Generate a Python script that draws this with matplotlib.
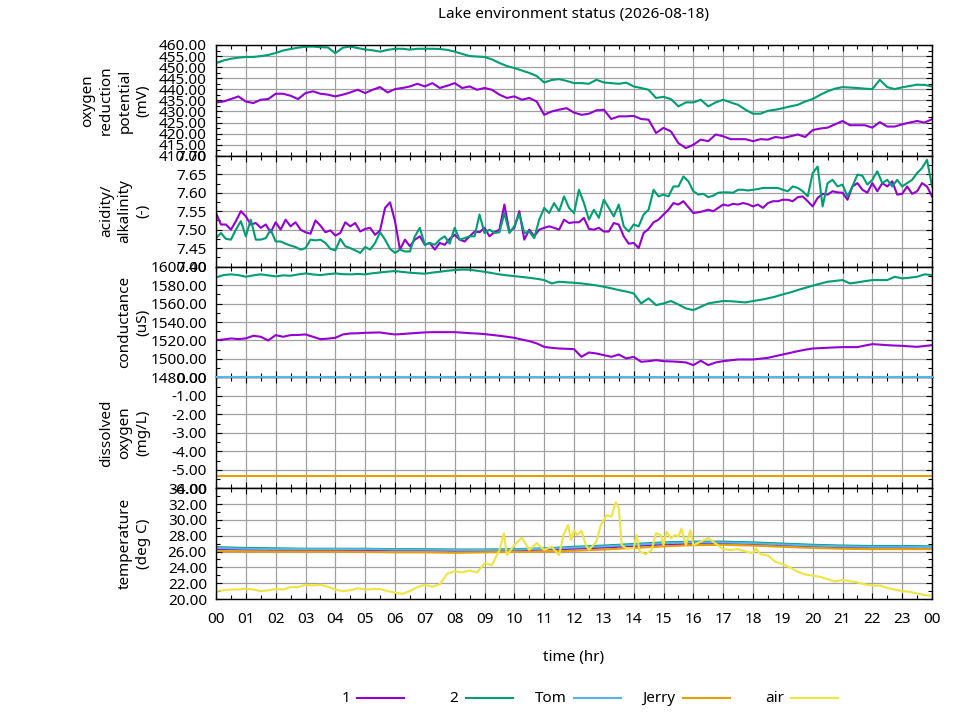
import numpy as np
import matplotlib
matplotlib.use("Agg")
import matplotlib.pyplot as plt
from matplotlib.lines import Line2D
from matplotlib.ticker import MultipleLocator, FormatStrFormatter

plt.rcParams['font.family'] = ['Noto Sans', 'DejaVu Sans']
plt.rcParams['font.size'] = 11

PURPLE = "#9400d3"
GREEN = "#009e73"
BLUE = "#56b4e9"
ORANGE = "#e69f00"
YELLOW = "#f0e442"

names = ["1", "2", "Tom", "Jerry", "air"]
colors = [PURPLE, GREEN, BLUE, ORANGE, YELLOW]

# sample times (hours)
t15 = np.arange(97) * 0.25
t10 = np.arange(145) / 6.0
t60 = np.arange(25) * 1.0

# oxygen reduction potential (mV), every 15 min
orp_1 = [434.1, 434.5, 435.6, 436.8, 434.5, 433.8, 435.3, 435.6, 438.0, 438.0, 437.1, 435.6,
         438.3, 439.1, 438.0, 437.6, 436.8, 437.6, 438.6, 439.8, 438.3, 439.8, 441.0, 438.6,
         440.1, 440.6, 441.3, 442.5, 441.3, 442.8, 440.6, 441.6, 442.8, 440.6, 441.3, 439.8,
         440.6, 439.8, 437.6, 436.1, 436.8, 435.3, 436.1, 434.5, 428.5, 430.0, 430.8, 431.5,
         429.5, 428.5, 429.0, 430.5, 430.8, 426.6, 427.8, 427.8, 428.0, 426.6, 426.3, 420.3,
         422.6, 421.0, 415.7, 413.5, 415.0, 417.3, 416.6, 419.6, 418.8, 417.5, 417.5, 417.5,
         416.6, 417.5, 417.3, 418.5, 418.0, 418.8, 419.6, 418.5, 421.6, 422.3, 422.7, 424.2,
         425.7, 423.8, 423.8, 423.8, 422.7, 425.2, 423.2, 423.2, 424.2, 425.0, 425.7, 425.0,
         426.5]
orp_2 = [451.9, 453.0, 453.8, 454.3, 454.6, 454.6, 455.0, 455.5, 456.4, 457.5, 458.2, 458.8,
         459.2, 459.3, 459.0, 458.9, 456.3, 458.8, 459.3, 458.6, 458.0, 457.6, 457.0, 457.8,
         458.3, 458.3, 457.9, 458.3, 458.3, 458.3, 458.2, 457.8, 457.0, 456.0, 455.0, 454.8,
         454.6, 453.5, 451.9, 450.5, 449.6, 448.5, 447.4, 446.0, 443.1, 444.2, 444.6, 443.8,
         442.8, 442.8, 442.5, 444.3, 443.1, 442.8, 442.5, 443.0, 441.3, 440.6, 439.8, 436.1,
         436.6, 435.6, 432.3, 434.1, 434.1, 435.3, 432.3, 434.1, 435.3, 434.1, 433.0, 430.8,
         429.0, 429.0, 430.3, 430.8, 431.5, 432.3, 433.0, 434.5, 435.6, 437.5, 439.1, 440.3,
         441.0, 440.8, 440.6, 440.3, 440.1, 444.3, 441.0, 440.1, 440.9, 441.5, 442.1, 442.0,
         441.3]

# acidity/alkalinity, every 10 min
ph_1 = [7.545, 7.514, 7.514, 7.500, 7.523, 7.550, 7.536, 7.514, 7.518, 7.505, 7.514, 7.493,
        7.520, 7.500, 7.527, 7.509, 7.520, 7.500, 7.493, 7.489, 7.525, 7.511, 7.493, 7.498,
        7.484, 7.491, 7.520, 7.509, 7.518, 7.495, 7.502, 7.505, 7.486, 7.498, 7.559, 7.574,
        7.523, 7.446, 7.473, 7.455, 7.473, 7.482, 7.459, 7.464, 7.446, 7.464, 7.459, 7.475,
        7.486, 7.473, 7.468, 7.482, 7.495, 7.493, 7.505, 7.482, 7.493, 7.500, 7.568, 7.495,
        7.505, 7.550, 7.473, 7.500, 7.482, 7.500, 7.505, 7.509, 7.505, 7.500, 7.527, 7.518,
        7.520, 7.520, 7.532, 7.502, 7.500, 7.505, 7.495, 7.495, 7.518, 7.514, 7.482, 7.462,
        7.464, 7.450, 7.491, 7.502, 7.520, 7.527, 7.541, 7.554, 7.572, 7.568, 7.577, 7.561,
        7.545, 7.547, 7.550, 7.554, 7.550, 7.559, 7.568, 7.565, 7.570, 7.568, 7.572, 7.569,
        7.563, 7.568, 7.559, 7.572, 7.577, 7.577, 7.581, 7.581, 7.577, 7.588, 7.590, 7.577,
        7.563, 7.586, 7.597, 7.595, 7.604, 7.601, 7.600, 7.581, 7.617, 7.626, 7.608, 7.600,
        7.626, 7.604, 7.626, 7.617, 7.631, 7.595, 7.597, 7.617, 7.597, 7.604, 7.626, 7.617,
        7.590]
ph_2 = [7.477, 7.491, 7.475, 7.473, 7.500, 7.523, 7.482, 7.527, 7.473, 7.473, 7.477, 7.500,
        7.468, 7.468, 7.462, 7.457, 7.453, 7.446, 7.450, 7.473, 7.471, 7.473, 7.464, 7.448,
        7.444, 7.475, 7.455, 7.450, 7.444, 7.437, 7.453, 7.446, 7.464, 7.493, 7.473, 7.448,
        7.437, 7.446, 7.441, 7.441, 7.482, 7.505, 7.459, 7.464, 7.459, 7.473, 7.482, 7.462,
        7.505, 7.473, 7.477, 7.482, 7.482, 7.541, 7.491, 7.500, 7.491, 7.493, 7.545, 7.491,
        7.509, 7.543, 7.491, 7.495, 7.477, 7.527, 7.559, 7.545, 7.572, 7.550, 7.590, 7.559,
        7.545, 7.608, 7.572, 7.527, 7.554, 7.532, 7.581, 7.559, 7.536, 7.568, 7.509, 7.495,
        7.514, 7.509, 7.541, 7.554, 7.608, 7.590, 7.595, 7.590, 7.617, 7.617, 7.644, 7.631,
        7.604, 7.595, 7.597, 7.588, 7.592, 7.600, 7.601, 7.601, 7.600, 7.608, 7.608, 7.606,
        7.608, 7.610, 7.613, 7.613, 7.613, 7.613, 7.608, 7.604, 7.617, 7.613, 7.604, 7.590,
        7.653, 7.671, 7.563, 7.626, 7.635, 7.617, 7.622, 7.590, 7.617, 7.649, 7.646, 7.622,
        7.635, 7.658, 7.626, 7.635, 7.617, 7.635, 7.617, 7.626, 7.635, 7.653, 7.667, 7.689,
        7.617]

# conductance (uS), every 15 min
cond_1 = [1520.4, 1521.0, 1522.2, 1521.5, 1522.2, 1525.1, 1524.0, 1520.0, 1525.8, 1524.0, 1525.8, 1526.0,
          1526.5, 1524.0, 1521.4, 1522.0, 1522.9, 1526.5, 1527.6, 1527.8, 1528.3, 1528.5, 1528.7, 1527.5,
          1526.5, 1527.0, 1527.6, 1528.2, 1528.7, 1529.0, 1529.0, 1529.0, 1529.0, 1528.5, 1527.9, 1527.5,
          1526.9, 1526.0, 1525.1, 1524.0, 1522.9, 1521.0, 1519.3, 1516.8, 1513.1, 1512.0, 1511.3, 1511.0,
          1510.6, 1502.3, 1507.0, 1505.9, 1504.1, 1502.3, 1504.8, 1500.5, 1502.3, 1496.9, 1497.6, 1498.7,
          1497.6, 1497.3, 1496.9, 1496.2, 1493.3, 1498.0, 1493.3, 1496.2, 1497.6, 1498.5, 1499.4, 1499.4,
          1499.4, 1500.3, 1501.2, 1503.0, 1504.8, 1506.6, 1508.4, 1510.0, 1511.3, 1511.7, 1512.1, 1512.5,
          1512.8, 1512.8, 1512.8, 1514.5, 1516.0, 1515.5, 1514.9, 1514.5, 1514.2, 1513.6, 1513.1, 1514.0,
          1514.9]
cond_2 = [1588.3, 1590.8, 1591.6, 1590.8, 1589.0, 1590.5, 1591.6, 1590.5, 1589.4, 1590.5, 1590.1, 1591.5,
          1592.6, 1591.5, 1590.8, 1591.8, 1592.6, 1591.8, 1591.6, 1592.0, 1591.6, 1592.8, 1593.7, 1594.5,
          1595.2, 1594.2, 1593.4, 1592.8, 1592.3, 1593.5, 1594.4, 1595.5, 1596.2, 1596.8, 1596.6, 1595.5,
          1594.4, 1593.0, 1591.6, 1590.5, 1589.7, 1588.8, 1587.9, 1586.8, 1585.4, 1581.8, 1583.6, 1583.0,
          1582.5, 1581.8, 1580.7, 1579.6, 1578.2, 1576.5, 1574.6, 1573.0, 1571.0, 1560.1, 1565.6, 1558.3,
          1560.1, 1562.7, 1559.0, 1554.7, 1552.9, 1556.5, 1560.1, 1561.5, 1562.7, 1562.5, 1561.9, 1561.2,
          1562.7, 1564.0, 1565.6, 1567.5, 1569.9, 1572.0, 1574.6, 1577.0, 1579.3, 1581.5, 1583.6, 1584.5,
          1585.4, 1581.8, 1582.9, 1584.2, 1585.4, 1585.4, 1585.4, 1589.0, 1587.2, 1588.0, 1589.0, 1591.6,
          1590.8]

# dissolved oxygen (mg/L), hourly
do_tom = [0.0, 0.0, 0.0, 0.0, 0.0, 0.0, 0.0, 0.0, 0.0, 0.0, 0.0, 0.0, 0.0,
          0.0, 0.0, 0.0, 0.0, 0.0, 0.0, 0.0, 0.0, 0.0, 0.0, 0.0, 0.0]
do_jerry = [-5.33, -5.33, -5.33, -5.33, -5.33, -5.33, -5.33, -5.33, -5.33, -5.33, -5.33, -5.33, -5.33,
            -5.33, -5.33, -5.33, -5.33, -5.33, -5.33, -5.33, -5.33, -5.33, -5.33, -5.33, -5.33]

# water temperature (deg C), hourly
temp_1 = [26.3, 26.25, 26.2, 26.2, 26.2, 26.2, 26.15, 26.15, 26.1, 26.1, 26.15, 26.25, 26.35,
          26.5, 26.7, 26.9, 27.0, 27.05, 26.95, 26.8, 26.65, 26.55, 26.5, 26.5, 26.45]
temp_2 = [26.55, 26.45, 26.4, 26.35, 26.35, 26.35, 26.3, 26.3, 26.25, 26.25, 26.3, 26.4, 26.6,
          26.75, 26.95, 27.15, 27.25, 27.25, 27.15, 27.0, 26.85, 26.75, 26.7, 26.7, 26.65]
temp_tom = [26.45, 26.35, 26.3, 26.3, 26.3, 26.3, 26.25, 26.25, 26.2, 26.2, 26.25, 26.35, 26.5,
            26.65, 26.85, 27.05, 27.15, 27.15, 27.05, 26.9, 26.75, 26.65, 26.6, 26.6, 26.55]
temp_jerry = [26.05, 26.0, 26.0, 26.0, 26.0, 25.95, 25.9, 25.9, 25.85, 25.9, 25.95, 26.0, 26.1,
              26.25, 26.45, 26.65, 26.8, 26.85, 26.75, 26.6, 26.45, 26.35, 26.3, 26.3, 26.3]

# air temperature (deg C), irregular times
air_t = [0.0, 0.25, 0.5, 0.75, 1.0, 1.25, 1.5, 1.75, 2.0, 2.25, 2.5, 2.75, 3.0, 3.25, 3.5, 3.75,
         4.0, 4.25, 4.5, 4.75, 5.0, 5.25, 5.5, 5.75, 6.0, 6.25, 6.5, 6.75, 7.0, 7.25, 7.5, 7.75,
         8.0, 8.25, 8.5, 8.75, 9.0, 9.25, 9.5, 9.65, 9.75, 10.0, 10.25, 10.5, 10.75, 11.0, 11.25,
         11.5, 11.65, 11.8, 11.9, 12.0, 12.1, 12.25, 12.4, 12.5, 12.75, 12.9, 13.0, 13.1, 13.25,
         13.4, 13.5, 13.6, 13.75, 14.0, 14.1, 14.2, 14.4, 14.6, 14.75, 14.9, 15.0, 15.1, 15.25,
         15.4, 15.5, 15.6, 15.75, 15.9, 16.0, 16.25, 16.5, 16.75, 17.0, 17.25, 17.5, 17.75, 18.0,
         18.1, 18.25, 18.5, 18.75, 19.0, 19.25, 19.5, 19.75, 20.0, 20.25, 20.5, 20.75, 21.0, 21.25,
         21.5, 21.75, 22.0, 22.25, 22.5, 22.75, 23.0, 23.25, 23.5, 23.75, 24.0]
air_temp = [21.0, 21.1, 21.2, 21.2, 21.3, 21.2, 21.0, 21.1, 21.25, 21.2, 21.5, 21.5, 21.8, 21.7, 21.8, 21.55,
            21.2, 21.0, 21.1, 21.35, 21.2, 21.25, 21.25, 21.0, 20.8, 20.65, 21.0, 21.5, 21.8, 21.55, 21.85, 23.2,
            23.5, 23.35, 23.6, 23.35, 24.5, 24.3, 26.2, 28.3, 25.55, 26.8, 27.75, 26.2, 27.05, 26.2, 26.6,
            25.55, 28.1, 29.35, 27.45, 28.7, 28.1, 28.6, 26.8, 26.2, 27.25, 29.35, 30.0, 30.6, 30.4,
            32.2, 31.5, 26.8, 26.4, 26.4, 28.1, 26.0, 25.65, 26.2, 28.3, 28.1, 26.8, 28.5, 27.7,
            28.1, 27.9, 28.9, 26.8, 28.7, 26.8, 27.25, 27.7, 27.0, 26.3, 26.2, 26.3, 26.0, 25.8,
            26.4, 25.65, 25.5, 24.7, 24.4, 23.95, 23.45, 23.1, 22.95, 22.8, 22.5, 22.2, 22.4, 22.25,
            22.1, 21.85, 21.7, 21.7, 21.4, 21.2, 21.0, 20.9, 20.7, 20.5, 20.4]

hour_labels = ["%02d" % (h % 24) for h in range(25)]

fig, axes = plt.subplots(5, 1, sharex=True, figsize=(9.6, 7.2), dpi=100)
fig.subplots_adjust(left=216/960, right=932/960, top=1-45/720, bottom=1-599/720, hspace=0)

lw = 1.5
ax = axes[0]
ax.plot(t15, orp_1, color=PURPLE, lw=lw)
ax.plot(t15, orp_2, color=GREEN, lw=lw)
ax.set_ylim(410, 460)
ax.yaxis.set_major_locator(MultipleLocator(5))
ax.yaxis.set_minor_locator(MultipleLocator(2.5))
ax.set_ylabel("oxygen\nreduction\npotential\n(mV)")

ax = axes[1]
ax.plot(t10, ph_1, color=PURPLE, lw=lw)
ax.plot(t10, ph_2, color=GREEN, lw=lw)
ax.set_ylim(7.40, 7.70)
ax.yaxis.set_major_locator(MultipleLocator(0.05))
ax.yaxis.set_minor_locator(MultipleLocator(0.025))
ax.set_ylabel("acidity/\nalkalinity\n(-)")

ax = axes[2]
ax.plot(t15, cond_1, color=PURPLE, lw=lw)
ax.plot(t15, cond_2, color=GREEN, lw=lw)
ax.set_ylim(1480, 1600)
ax.yaxis.set_major_locator(MultipleLocator(20))
ax.yaxis.set_minor_locator(MultipleLocator(10))
ax.set_ylabel("conductance\n(uS)")

ax = axes[3]
ax.plot(t60, do_tom, color=BLUE, lw=lw, clip_on=False, zorder=3)
ax.plot(t60, do_jerry, color=ORANGE, lw=lw)
ax.set_ylim(-6, 0)
ax.yaxis.set_major_locator(MultipleLocator(1))
ax.yaxis.set_minor_locator(MultipleLocator(0.5))
ax.set_ylabel("dissolved\noxygen\n(mg/L)")

ax = axes[4]
ax.plot(t60, temp_1, color=PURPLE, lw=lw)
ax.plot(t60, temp_2, color=GREEN, lw=lw)
ax.plot(t60, temp_tom, color=BLUE, lw=lw)
ax.plot(t60, temp_jerry, color=ORANGE, lw=lw)
ax.plot(air_t, air_temp, color=YELLOW, lw=lw)
ax.set_ylim(20, 34)
ax.yaxis.set_major_locator(MultipleLocator(2))
ax.yaxis.set_minor_locator(MultipleLocator(1))
ax.set_ylabel("temperature\n(deg C)")

for ax in axes:
    ax.set_xlim(0, 24)
    ax.xaxis.set_major_locator(MultipleLocator(1))
    ax.xaxis.set_minor_locator(MultipleLocator(0.5))
    ax.yaxis.set_major_formatter(FormatStrFormatter("%.2f"))
    ax.grid(True, which="major", color="#a0a0a0", lw=0.9)
    ax.set_axisbelow(True)
    ax.tick_params(which="both", direction="in", top=True, right=True, color="black")
    ax.tick_params(which="major", length=4.5, width=0.8, pad=6.5)
    ax.tick_params(which="minor", length=3, width=0.8)
    ax.tick_params(axis="x", labelsize=11)
    for sp in ax.spines.values():
        sp.set_linewidth(1.0)
    ax.yaxis.set_label_coords(-0.091, 0.5)
    ax.yaxis.label.set_linespacing(1.32)

axes[-1].set_xticks(np.arange(25))
axes[-1].set_xticklabels(hour_labels)
axes[-1].tick_params(axis="x", pad=9)
axes[-1].set_xlabel("time (hr)", labelpad=17)

fig.suptitle("Lake environment status (2026-08-18)", x=574/960, y=1-7/720, fontsize=11)

# key at the bottom, text then sample line
for i, (name, c) in enumerate(zip(names, colors)):
    xr = 350 + 108.5 * i
    fig.text(xr / 960, 1 - 699 / 720, name, ha="right", va="center", fontsize=11)
    fig.add_artist(Line2D([(xr + 7) / 960, (xr + 54) / 960], [1 - 698 / 720, 1 - 698 / 720],
                          color=c, lw=lw))

fig.savefig("out.png", dpi=100)
